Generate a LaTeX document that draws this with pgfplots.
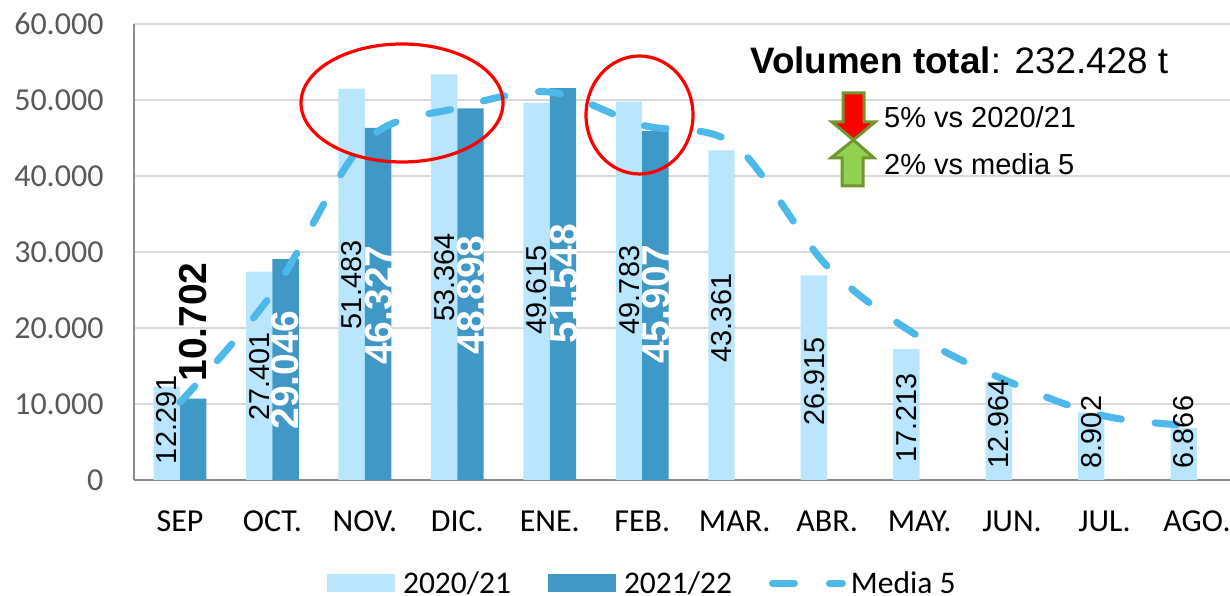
\documentclass[border=0pt]{standalone}
\usepackage{pgfplots}
\pgfplotsset{compat=1.18}
\usepackage{fontspec}
\setmainfont{Carlito}
\newfontfamily\arial{Liberation Sans}
\definecolor{lightbar}{HTML}{B9E6FC}
\definecolor{darkbar}{HTML}{3F98C5}
\definecolor{medialine}{HTML}{4DB8EA}
\definecolor{gridc}{HTML}{D9D9D9}
\definecolor{axisc}{HTML}{8C8C8C}
\definecolor{ticktxt}{HTML}{595959}
\definecolor{arrowedge}{HTML}{71962F}
\definecolor{arrowgreen}{HTML}{92D050}
\newcommand{\fs}[1]{\fontsize{#1}{#1}\selectfont}
\begin{document}
\begin{tikzpicture}
\useasboundingbox (0,0) rectangle (1230pt,596pt);
\begin{axis}[
  at={(134pt,116pt)}, anchor=south west,
  scale only axis, width=1096pt, height=456pt,
  xmin=-0.4976, xmax=11.358, ymin=0, ymax=60000,
  axis x line=bottom, axis y line=left,
  axis line style={-, draw=axisc, line width=2.5pt},
  xtick={0,...,11},
  xticklabels={SEP,OCT.,NOV.,DIC.,ENE.,FEB.,MAR.,ABR.,MAY.,JUN.,JUL.,AGO.},
  x tick label style={font=\fs{32}, text=black},
  ytick={0,10000,20000,30000,40000,50000,60000},
  y tick label style={font=\fs{32}, text=ticktxt},
  scaled y ticks=false,
  yticklabel style={/pgf/number format/.cd, 1000 sep={.}, assume math mode=true},
  tick style={draw=none}, major tick length=0pt,
  xticklabel shift=27.5pt, yticklabel shift=27pt,
  ymajorgrids, grid style={draw=gridc, line width=2pt},
  axis on top=false,
  legend columns=3,
  legend style={at={(0.4633,-0.226)}, anchor=center, draw=none, fill=none, inner sep=0pt, outer sep=0pt,
    font=\fs{31.5}, nodes={inner sep=1pt},
    /tikz/every even column/.append style={column sep=36pt},
    /tikz/every odd column/.append style={column sep=7pt}},
  legend cell align=left,
]
\addplot[ybar, bar width=26.4pt, bar shift=-13.2pt, fill=lightbar, draw=none,
  legend image code/.code={\fill[lightbar] (0pt,-9pt) rectangle (68pt,9pt);}]
  coordinates {(0,12291)(1,27401)(2,51483)(3,53364)(4,49615)(5,49783)(6,43361)(7,26915)(8,17213)(9,12964)(10,8902)(11,6866)};
\addlegendentry{2020/21}
\addplot[ybar, bar width=26.4pt, bar shift=13.2pt, fill=darkbar, draw=none,
  legend image code/.code={\fill[darkbar] (0pt,-9pt) rectangle (68pt,9pt);}]
  coordinates {(0,10702)(1,29046)(2,46327)(3,48898)(4,51548)(5,45907)};
\addlegendentry{2021/22}
% value labels
\addplot[draw=none, mark=none, forget plot, point meta=explicit symbolic,
  nodes near coords, nodes near coords align=center,
  every node near coord/.append style={font=\arial\fs{28.8}, text=black, rotate=90, anchor=center, inner sep=0pt}]
  coordinates {(-0.14,7900)[12.291] (0.86,13680)[27.401] (1.86,25660)[51.483] (2.86,26700)[53.364]
    (3.86,25000)[49.615] (4.86,25000)[49.783] (5.86,21316)[43.361] (6.86,13000)[26.915]
    (7.86,8160)[17.213] (8.86,7370)[12.964] (9.86,6316)[8.902] (10.86,6316)[6.866]};
\addplot[draw=none, mark=none, forget plot, point meta=explicit symbolic,
  nodes near coords, nodes near coords align=center,
  every node near coord/.append style={font=\arial\bfseries\fs{39}, text=black, rotate=90, anchor=center, inner sep=0pt}]
  coordinates {(0.14,20790)[10.702]};
\addplot[draw=none, mark=none, forget plot, point meta=explicit symbolic,
  nodes near coords, nodes near coords align=center,
  every node near coord/.append style={font=\arial\bfseries\fs{39}, text=white, rotate=90, anchor=center, inner sep=0pt}]
  coordinates {(1.14,14470)[29.046] (2.15,23000)[46.327] (3.15,24340)[48.898] (4.15,25800)[51.548] (5.15,23150)[45.907]};
\addplot[medialine, line width=7pt, line cap=round, smooth, tension=0.55, mark=none,
  dash pattern=on 22pt off 34pt,
  legend image code/.code={\draw[medialine, line width=7pt, line cap=round] (0pt,0pt) -- (26pt,0pt);
    \draw[medialine, line width=7pt, line cap=round] (57pt,0pt) -- (70pt,0pt);}]
  coordinates {(0,10200)(1,24600)(2,44470)(3,48950)(4,51050)(5,46700)(6,44080)(7,28150)(8,18800)(9,12760)(10,8420)(11,7100)};
\addlegendentry{\hspace{-3pt}Media 5}
\end{axis}
% annotations, positions in picture pixels
\draw[red, line width=3.2pt] (402pt,493pt) ellipse [x radius=101pt, y radius=59pt];
\draw[red, line width=3.2pt] (639.5pt,481pt) ellipse [x radius=53.5pt, y radius=59pt];
\node[anchor=base west, inner sep=0pt, font=\arial\fs{36.8}, text=black] at (750pt,522pt) {\textbf{Volumen total}: 232.428 t};
\node[anchor=base west, inner sep=0pt, font=\arial\fs{29}, text=black] at (884pt,468pt) {5\% vs 2020/21};
\node[anchor=base west, inner sep=0pt, font=\arial\fs{29}, text=black] at (884pt,421pt) {2\% vs media 5};
\draw[arrowedge, line width=3pt, fill=red, miter limit=10]
  (843pt,503pt) -- (864pt,503pt) -- (864pt,474pt) -- (875pt,474pt) -- (853.5pt,456pt) -- (832pt,474pt) -- (843pt,474pt) -- cycle;
\draw[arrowedge, line width=3pt, fill=arrowgreen, miter limit=10]
  (842pt,410pt) -- (863pt,410pt) -- (863pt,438pt) -- (874pt,438pt) -- (853.5pt,456pt) -- (831pt,438pt) -- (842pt,438pt) -- cycle;
\end{tikzpicture}
\end{document}
